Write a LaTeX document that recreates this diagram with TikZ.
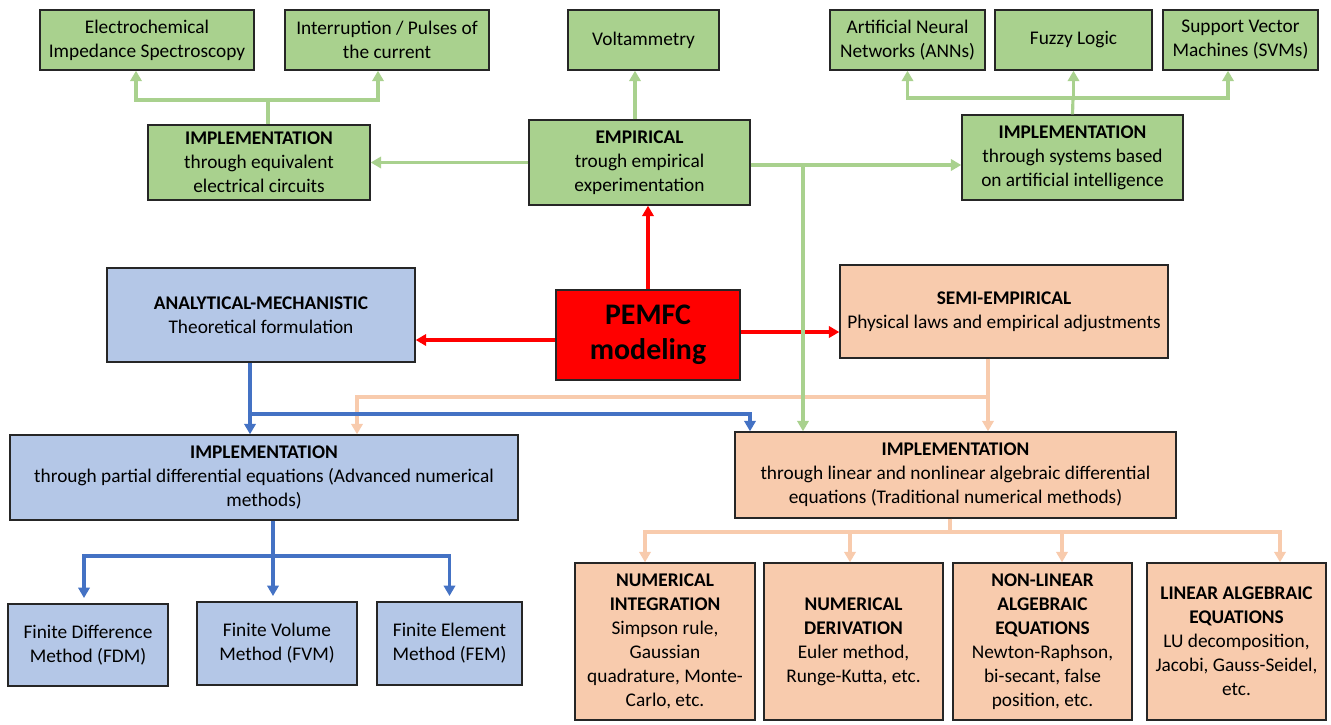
\documentclass[tikz,border=0pt]{standalone}
\usepackage{fontspec}
\setmainfont{Carlito}
\usetikzlibrary{arrows.meta}
\definecolor{greenfill}{HTML}{A9D18E}
\definecolor{bluefill}{HTML}{B4C7E7}
\definecolor{bluedark}{HTML}{4472C4}
\definecolor{orangefill}{HTML}{F8CBAD}
\begin{document}
\begin{tikzpicture}[x=0.02cm,y=-0.02cm,
	main_box/.style={draw=black!85,line width=0.8pt,align=center,inner sep=2pt,font=\fontsize{11}{13.6}\selectfont},
	green_box/.style={main_box,fill=greenfill},
	blue_box/.style={main_box,fill=bluefill},
	orange_box/.style={main_box,fill=orangefill},
	red_box/.style={main_box,fill=red,font=\fontsize{17}{20}\selectfont\bfseries},
	main_line/.style={line width=1.8pt},
	main_arrow/.style={main_line,-{Triangle[length=6pt,width=6.5pt]}},
	green_line/.style={main_line,draw=greenfill},
	green_arrow/.style={main_arrow,draw=greenfill},
	blue_line/.style={main_line,draw=bluedark},
	blue_arrow/.style={main_arrow,draw=bluedark},
	orange_line/.style={main_line,draw=orangefill},
	orange_arrow/.style={main_arrow,draw=orangefill},
	red_arrow/.style={main_arrow,draw=red}]
		
		\useasboundingbox (0,0) rectangle (1331,724);
		
		\node[green_box,minimum width=4.28cm,minimum height=1.2cm] (eis) at (147,40) {Electrochemical\\Impedance Spectroscopy};
		\node[green_box,minimum width=4.08cm,minimum height=1.2cm] (pulses) at (387,40) {Interruption / Pulses of\\the current};
		\node[green_box,minimum width=3.02cm,minimum height=1.2cm] (volt) at (643.5,40) {Voltammetry};
		\node[green_box,minimum width=3.1cm,minimum height=1.2cm] (ann) at (907.5,40) {Artificial Neural\\Networks (ANNs)};
		\node[green_box,minimum width=3.14cm,minimum height=1.2cm] (fuzzy) at (1073.5,40) {Fuzzy Logic};
		\node[green_box,minimum width=3.1cm,minimum height=1.2cm] (svm) at (1240.5,40) {Support Vector\\Machines (SVMs)};
		\node[green_box,minimum width=4.44cm,minimum height=1.5cm] (impl_circ) at (259,162.5) {\textbf{IMPLEMENTATION}\\through equivalent\\electrical circuits};
		\node[green_box,minimum width=4.42cm,minimum height=1.7cm] (empirical) at (639.5,162.5) {\textbf{EMPIRICAL}\\trough empirical\\experimentation};
		\node[green_box,minimum width=4.42cm,minimum height=1.7cm] (impl_ai) at (1072.5,157.5) {\textbf{IMPLEMENTATION}\\through systems based\\on artificial intelligence};
		\node[blue_box,minimum width=6.16cm,minimum height=1.88cm] (analytical) at (261,315) {\textbf{ANALYTICAL-MECHANISTIC}\\Theoretical formulation};
		\node[red_box,minimum width=3.68cm,minimum height=1.8cm] (pemfc) at (648,335) {PEMFC\\modeling};
		\node[orange_box,minimum width=6.56cm,minimum height=1.86cm] (semi) at (1004,311.5) {\textbf{SEMI-EMPIRICAL}\\Physical laws and empirical adjustments};
		\node[blue_box,minimum width=10.16cm,minimum height=1.7cm] (impl_pde) at (264,477.5) {\textbf{IMPLEMENTATION}\\through partial differential equations (Advanced numerical\\methods)};
		\node[orange_box,minimum width=8.82cm,minimum height=1.72cm] (impl_alg) at (955.5,475) {\textbf{IMPLEMENTATION}\\through linear and nonlinear algebraic differential\\equations (Traditional numerical methods)};
		\node[blue_box,minimum width=3.2cm,minimum height=1.64cm] (fdm) at (88,645) {Finite Difference\\Method (FDM)};
		\node[blue_box,minimum width=3.2cm,minimum height=1.66cm] (fvm) at (277,643.5) {Finite Volume\\Method (FVM)};
		\node[blue_box,minimum width=2.9cm,minimum height=1.66cm] (fem) at (449.5,643.5) {Finite Element\\Method (FEM)};
		\node[orange_box,minimum width=3.6cm,minimum height=3.14cm] (num_int) at (665,641.5) {\textbf{NUMERICAL}\\\textbf{INTEGRATION}\\Simpson rule,\\Gaussian\\quadrature, Monte-\\Carlo, etc.};
		\node[orange_box,minimum width=3.58cm,minimum height=3.14cm] (num_der) at (853.5,641.5) {\textbf{NUMERICAL}\\\textbf{DERIVATION}\\Euler method,\\Runge-Kutta, etc.};
		\node[orange_box,minimum width=3.58cm,minimum height=3.14cm] (nonlin) at (1042.5,641.5) {\textbf{NON-LINEAR}\\\textbf{ALGEBRAIC}\\\textbf{EQUATIONS}\\Newton-Raphson,\\bi-secant, false\\position, etc.};
		\node[orange_box,minimum width=3.58cm,minimum height=3.14cm] (lin) at (1236.5,641.5) {\textbf{LINEAR ALGEBRAIC}\\\textbf{EQUATIONS}\\LU decomposition,\\Jacobi, Gauss-Seidel,\\etc.};
		
		\coordinate (j_circ) at (268,100);
		\coordinate (j_ai) at (1073,98);
		\coordinate (j_emp) at (803,165);
		\coordinate (j_semi) at (988,397);
		\coordinate (j_semi_left) at (357,397);
		\coordinate (j_anal) at (250,414);
		\coordinate (j_anal_right) at (750,414);
		\coordinate (j_pde) at (273,556);
		\coordinate (j_alg) at (950,532);
		
		\draw[green_line] (j_circ |- impl_circ.north) -- (j_circ);
		\draw[green_arrow] (j_circ) -| ([xshift=-0.22cm]eis.south);
		\draw[green_arrow] (j_circ) -| ([xshift=-0.18cm]pulses.south);
		\draw[green_arrow] (empirical.north -| 635,0) -- (volt.south -| 635,0);
		\draw[green_arrow] (empirical.west) -- (impl_circ.east);
		\draw[green_arrow] (empirical.east |- j_emp) -- (impl_ai.west |- j_emp);
		\draw[green_line] (impl_ai.north) -- (j_ai);
		\draw[green_arrow] (j_ai) -| (ann.south);
		\draw[green_arrow] (j_ai) -| (fuzzy.south);
		\draw[green_arrow] (j_ai) -| ([xshift=-0.25cm]svm.south);
		
		\draw[red_arrow] (pemfc.north) -- (pemfc.north |- empirical.south);
		\draw[red_arrow] (pemfc.west |- 0,340) -- (analytical.east |- 0,340);
		\draw[red_arrow] (pemfc.east |- 0,332) -- (semi.west |- 0,332);
		
		\draw[orange_arrow] (j_semi |- semi.south) -- (j_semi |- impl_alg.north);
		\draw[orange_arrow] (j_semi) -- (j_semi_left) -- (j_semi_left |- impl_pde.north);
		\draw[blue_arrow] (j_anal |- analytical.south) -- (j_anal |- impl_pde.north);
		\draw[blue_arrow] (j_anal) -- (j_anal_right) -- (j_anal_right |- impl_alg.north);
		\draw[green_arrow] (j_emp) -- (j_emp |- impl_alg.north);
		
		\draw[blue_line] (j_pde |- impl_pde.south) -- (j_pde);
		\draw[blue_arrow,shorten >=3pt] (j_pde) -| ([xshift=-0.08cm]fdm.north);
		\draw[blue_arrow,shorten >=3pt] (j_pde) -- (j_pde |- fvm.north);
		\draw[blue_arrow,shorten >=3pt] (j_pde) -| (fem.north);
		
		\draw[orange_line] (j_alg |- impl_alg.south) -- (j_alg);
		\foreach \n/\d in {num_int/-0.4,num_der/-0.07,nonlin/0.39,lin/0.87}
			\draw[orange_arrow] (j_alg) -| ([xshift=\d cm]\n.north);
		\end{tikzpicture}
\end{document}
